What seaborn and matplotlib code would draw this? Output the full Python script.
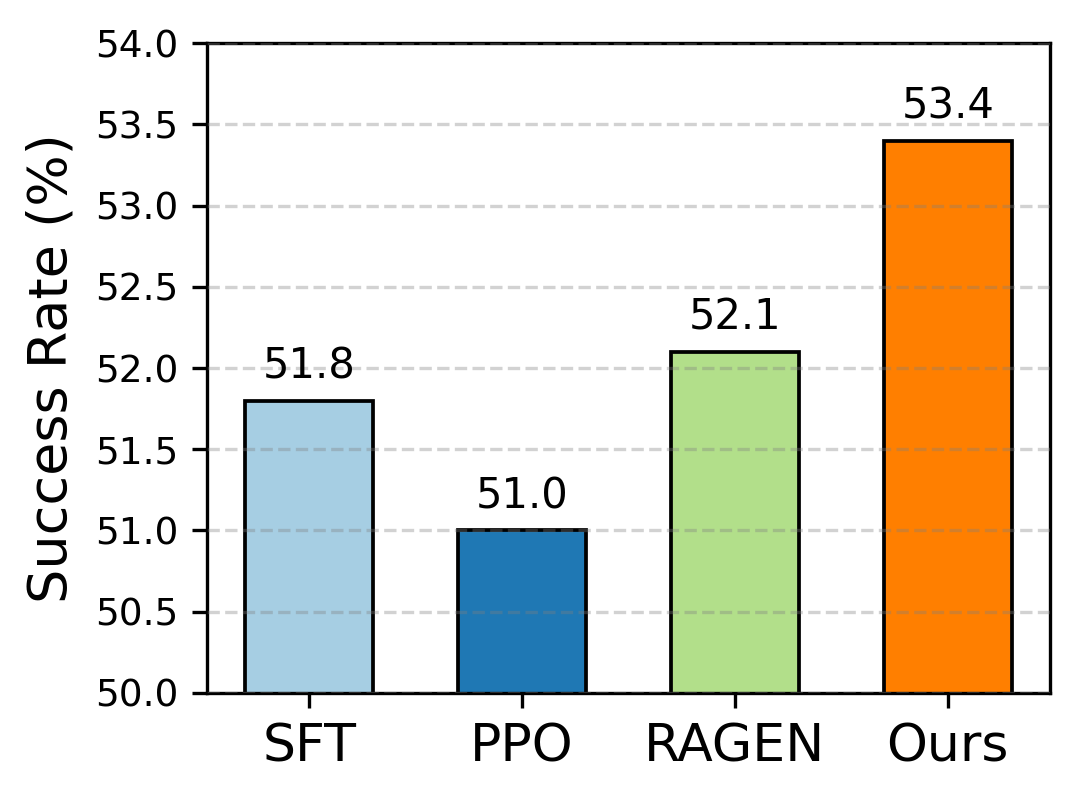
import matplotlib
matplotlib.use("Agg")
import matplotlib.pyplot as plt
import seaborn as sns
import pandas as pd

methods = ["SFT", "PPO", "RAGEN", "Ours"]
success = [51.8, 51.0, 52.1, 53.4]
bar_colors = ["#a6cee3", "#1f78b4", "#b2df8a", "#ff7f00"]

sns.set_style("ticks", {"axes.edgecolor": "black", "text.color": "black",
                        "xtick.color": "black", "ytick.color": "black",
                        "axes.labelcolor": "black"})
plt.rcParams['font.family'] = ['DejaVu Sans']

df = pd.DataFrame({"Method": methods, "Success": success})

fig = plt.figure(figsize=(1079 / 300, 801 / 300), dpi=300)
ax = fig.add_axes([0.192, 0.135, 0.781, 0.811])

sns.barplot(data=df, x="Method", y="Success", hue="Method", palette=bar_colors,
            width=0.6, edgecolor="black", linewidth=0.9, legend=False, ax=ax,
            saturation=1)

for i, v in enumerate(success):
    ax.text(i, v + 0.08, f"{v:.1f}", ha="center", va="bottom", fontsize=10,
            color="black")

ax.set_ylim(50.0, 54.0)
ax.set_xlim(-0.48, 3.48)
ax.set_yticks([50.0, 50.5, 51.0, 51.5, 52.0, 52.5, 53.0, 53.5, 54.0])
ax.set_yticklabels([f"{t:.1f}" for t in ax.get_yticks()], fontsize=9)
ax.tick_params(axis="both", colors="black", width=0.8, length=3.5)
ax.tick_params(axis="x", labelsize=12.5)
ax.set_xlabel("")
ax.set_ylabel("Success Rate (%)", fontsize=13, color="black")
ax.yaxis.grid(True, linestyle="--", color="gray", alpha=0.35, linewidth=0.8)
ax.set_axisbelow(False)
for s in ax.spines.values():
    s.set_visible(True)
    s.set_linewidth(0.8)
    s.set_color("black")

fig.savefig("out.png", dpi=300)
